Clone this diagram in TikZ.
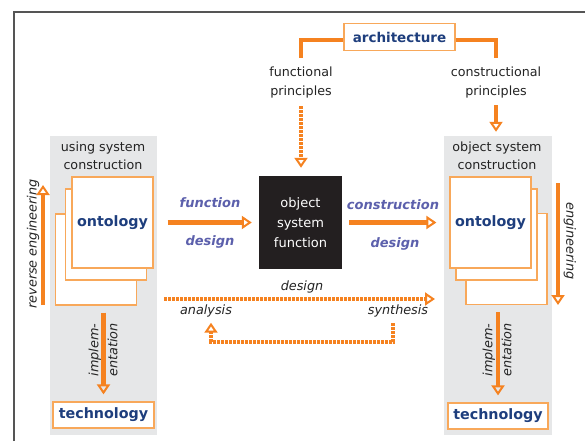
\documentclass[tikz,border=0pt]{standalone}
\usepackage{fontspec}
\setmainfont{DejaVu Sans}
\usetikzlibrary{arrows.meta,positioning}
\definecolor{orng}{RGB}{245,130,32}
\definecolor{lightorng}{RGB}{248,168,90}
\definecolor{navy}{RGB}{30,62,125}
\definecolor{violetblue}{RGB}{92,96,172}
\definecolor{panelgray}{RGB}{230,231,232}
\definecolor{blackbox}{RGB}{35,31,32}
\definecolor{darktext}{RGB}{35,35,35}
\definecolor{framegray}{RGB}{85,85,85}

\begin{document}
\begin{tikzpicture}[x=1pt,y=-1pt]
\tikzstyle{panel}=[fill=panelgray, inner sep=0pt, minimum width=107pt, minimum height=299pt]
\tikzstyle{sheet}=[draw=lightorng, fill=white, line width=1.2pt, inner sep=0pt, minimum width=81pt, minimum height=91pt, text=navy, font=\bfseries\fontsize{14.3}{16}\selectfont]
\tikzstyle{plain}=[draw=lightorng, fill=white, line width=1.2pt, inner sep=0pt, text=navy, font=\bfseries\fontsize{14.3}{16}\selectfont]
\tikzstyle{label}=[text=darktext, align=center, font=\fontsize{12.7}{18.5}\selectfont]
\tikzstyle{itlabel}=[text=darktext, align=center, font=\itshape\fontsize{12.8}{19}\selectfont]
\tikzstyle{bluelabel}=[text=violetblue, font=\bfseries\itshape\fontsize{13}{15}\selectfont]
\tikzstyle{arr}=[draw=orng, line width=4.5pt, -{Triangle[open,length=10pt,width=13pt,line width=2pt]}]
\tikzstyle{dasharr}=[arr, line width=3.6pt, dash pattern=on 3pt off 1pt]
\tikzstyle{bracket}=[draw=orng, line width=4.5pt]

\useasboundingbox (0,0) rectangle (585,441);
\draw[framegray, line width=1.5pt] (14,441) -- (14,12) -- (585,12);

% gray panels
\draw node at (103.5,285.5) [panel] (panelL) {};
\draw node at (498,285.5) [panel, minimum width=108pt] (panelR) {};
\draw node at (103,156) [label] (usc) {using system\\construction};
\draw node at (497,156) [label] (osc) {object system\\construction};

% ontology sheets
\draw node at (96,259.5) [sheet] (ontLc) {};
\draw node at (106,234.5) [sheet] (ontLb) {};
\draw node at (112.5,222.5) [sheet] (ontL) {ontology};
\draw node at (506.5,259) [sheet] (ontRc) {};
\draw node at (496.5,234.5) [sheet] (ontRb) {};
\draw node at (490.5,222.5) [sheet] (ontR) {ontology};

\draw node at (300.5,222.5) [fill=blackbox, minimum width=83pt, minimum height=93pt, text=white, align=center, font=\fontsize{13}{20}\selectfont] (osf) {object\\system\\function};

% architecture
\draw node at (399.5,37) [plain, minimum width=111pt, minimum height=27pt, font=\bfseries\fontsize{13.5}{16}\selectfont] (arch) {architecture};
\draw node at (301,82.5) [label] (fp) {functional\\principles};
\draw node at (496,82.5) [label] (cp) {constructional\\principles};
\coordinate (fpTop) at (301,58);
\coordinate (cpTop) at (496,58);
\draw[bracket] ([yshift=-3pt]arch.west) -| (fpTop);
\draw[bracket] ([yshift=-3pt]arch.east) -| (cpTop);
\draw[dasharr, shorten <=5pt, shorten >=8pt] (fp.south) -- (fp.south |- osf.north);
\draw[arr, shorten <=4pt, shorten >=4pt] (cp.south) -- (cp.south |- panelR.north);

% design arrows
\draw[arr, shorten <=14pt, shorten >=7pt] (ontL.east) -- (osf.west);
\draw node at (210,203) [bluelabel] (fn) {function};
\draw node at (210,242) [bluelabel] (fnd) {design};
\draw[arr, shorten <=7pt, shorten >=13pt] (osf.east) -- (ontR.west);
\draw node at (393,205) [bluelabel] (cn) {construction};
\draw node at (395,244) [bluelabel] (cnd) {design};

\coordinate (dsStart) at (164,299);
\coordinate (dsEnd) at (435,299);
\draw[dasharr] (dsStart) -- (dsEnd);
\draw node at (302,287) [itlabel] (ds) {design};
\draw node at (206,311) [itlabel] (ana) {analysis};
\draw node at (398,311) [itlabel] (syn) {synthesis};
\draw[dasharr, shorten <=2.5pt, shorten >=2pt] ([xshift=-5pt]syn.south) -- ++(0,21) -| ([xshift=5pt]ana.south);

% engineering
\coordinate (reB) at (43,305);
\coordinate (reT) at (43,185);
\draw[arr] (reB) -- (reT);
\draw node at (33,244) [itlabel, rotate=90] (re) {reverse engineering};
\coordinate (enT) at (558,183);
\coordinate (enB) at (558,305);
\draw[arr] (enT) -- (enB);
\draw node at (570,241) [itlabel, rotate=-90] (en) {engineering};

% technology
\draw node at (103.5,415) [plain, minimum width=101pt, minimum height=26pt] (techL) {technology};
\draw node at (498,416) [plain, minimum width=100pt, minimum height=26pt] (techR) {technology};
\draw[arr, shorten <=7pt, shorten >=7pt] (techL.north |- ontLc.south) -- (techL.north);
\draw[arr, shorten <=7pt, shorten >=7pt] (techR.north |- ontRc.south) -- (techR.north);
\draw node at (103,350) [itlabel, rotate=90] (imL) {implem-\\entation};
\draw node at (497,350) [itlabel, rotate=90] (imR) {implem-\\entation};
\end{tikzpicture}
\end{document}
